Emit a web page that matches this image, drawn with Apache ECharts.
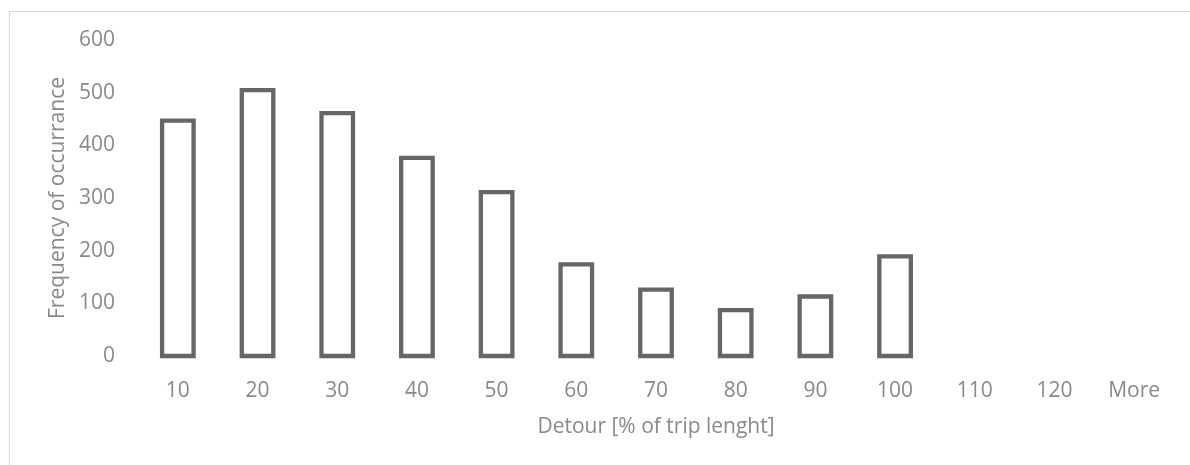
<!DOCTYPE html>
<html>
<head>
<meta charset="utf-8">
<script src="https://cdn.jsdelivr.net/npm/echarts@6/dist/echarts.min.js"></script>
<style>
  html, body { margin: 0; padding: 0; background: #ffffff; }
  #chart { width: 1190px; height: 465px; }
</style>
</head>
<body>
<div id="chart"></div>
<script>
// Detour histogram: bin labels and counts per bin
const categories = ['10', '20', '30', '40', '50', '60', '70', '80', '90', '100', '110', '120', 'More'];
const frequency = [447, 505, 461, 376, 311, 174, 126, 87, 113, 189, 0, 0, 0];
const yTicks = { min: 0, max: 600, interval: 100 };

const textColor = '#898989';
const barEdge = '#666666';
const fontFamily = '"Open Sans", "Noto Sans", sans-serif';
const barWidth = 31.5;
const edgeWidth = 4.3;

const chart = echarts.init(document.getElementById('chart'), null, { renderer: 'canvas' });

// Hollow bars whose outline is centred on the bar's value and on the zero line
function renderHollowBar(params, api) {
  const v = api.value(1);
  if (!v) return null;
  const top = api.coord([api.value(0), v]);
  const base = api.coord([api.value(0), 0]);
  return {
    type: 'rect',
    shape: { x: top[0] - barWidth / 2, y: top[1], width: barWidth, height: base[1] - top[1] },
    style: { fill: '#ffffff', stroke: barEdge, lineWidth: edgeWidth }
  };
}

chart.setOption({
  backgroundColor: '#ffffff',
  animation: false,
  textStyle: { fontFamily: fontFamily },
  graphic: [{
    type: 'rect',
    shape: { x: 9.5, y: 11.5, width: 1200, height: 500 },
    style: { fill: 'none', stroke: '#d9d9d9', lineWidth: 1 },
    silent: true,
    z: -1
  }],
  grid: { left: 138, right: 16, top: 40, bottom: 109, containLabel: false },
  xAxis: {
    type: 'category',
    data: categories,
    name: 'Detour [% of trip lenght]',
    nameLocation: 'middle',
    nameGap: 61,
    nameTextStyle: { color: textColor, fontSize: 21, fontFamily: fontFamily },
    axisLine: { show: false },
    axisTick: { show: false },
    axisLabel: { color: textColor, fontSize: 21, margin: 25, fontFamily: fontFamily },
    splitLine: { show: false }
  },
  yAxis: {
    type: 'value',
    min: yTicks.min,
    max: yTicks.max,
    interval: yTicks.interval,
    name: 'Frequency of occurrance',
    nameLocation: 'middle',
    nameGap: 69,
    nameTextStyle: { color: textColor, fontSize: 21, fontFamily: fontFamily },
    axisLine: { show: false },
    axisTick: { show: false },
    axisLabel: { color: textColor, fontSize: 21, margin: 23, padding: [4, 0, 0, 0], fontFamily: fontFamily },
    splitLine: { show: false }
  },
  series: [{
    type: 'custom',
    renderItem: renderHollowBar,
    encode: { x: 0, y: 1 },
    data: categories.map((c, i) => [i, frequency[i]])
  }]
});
</script>
</body>
</html>
